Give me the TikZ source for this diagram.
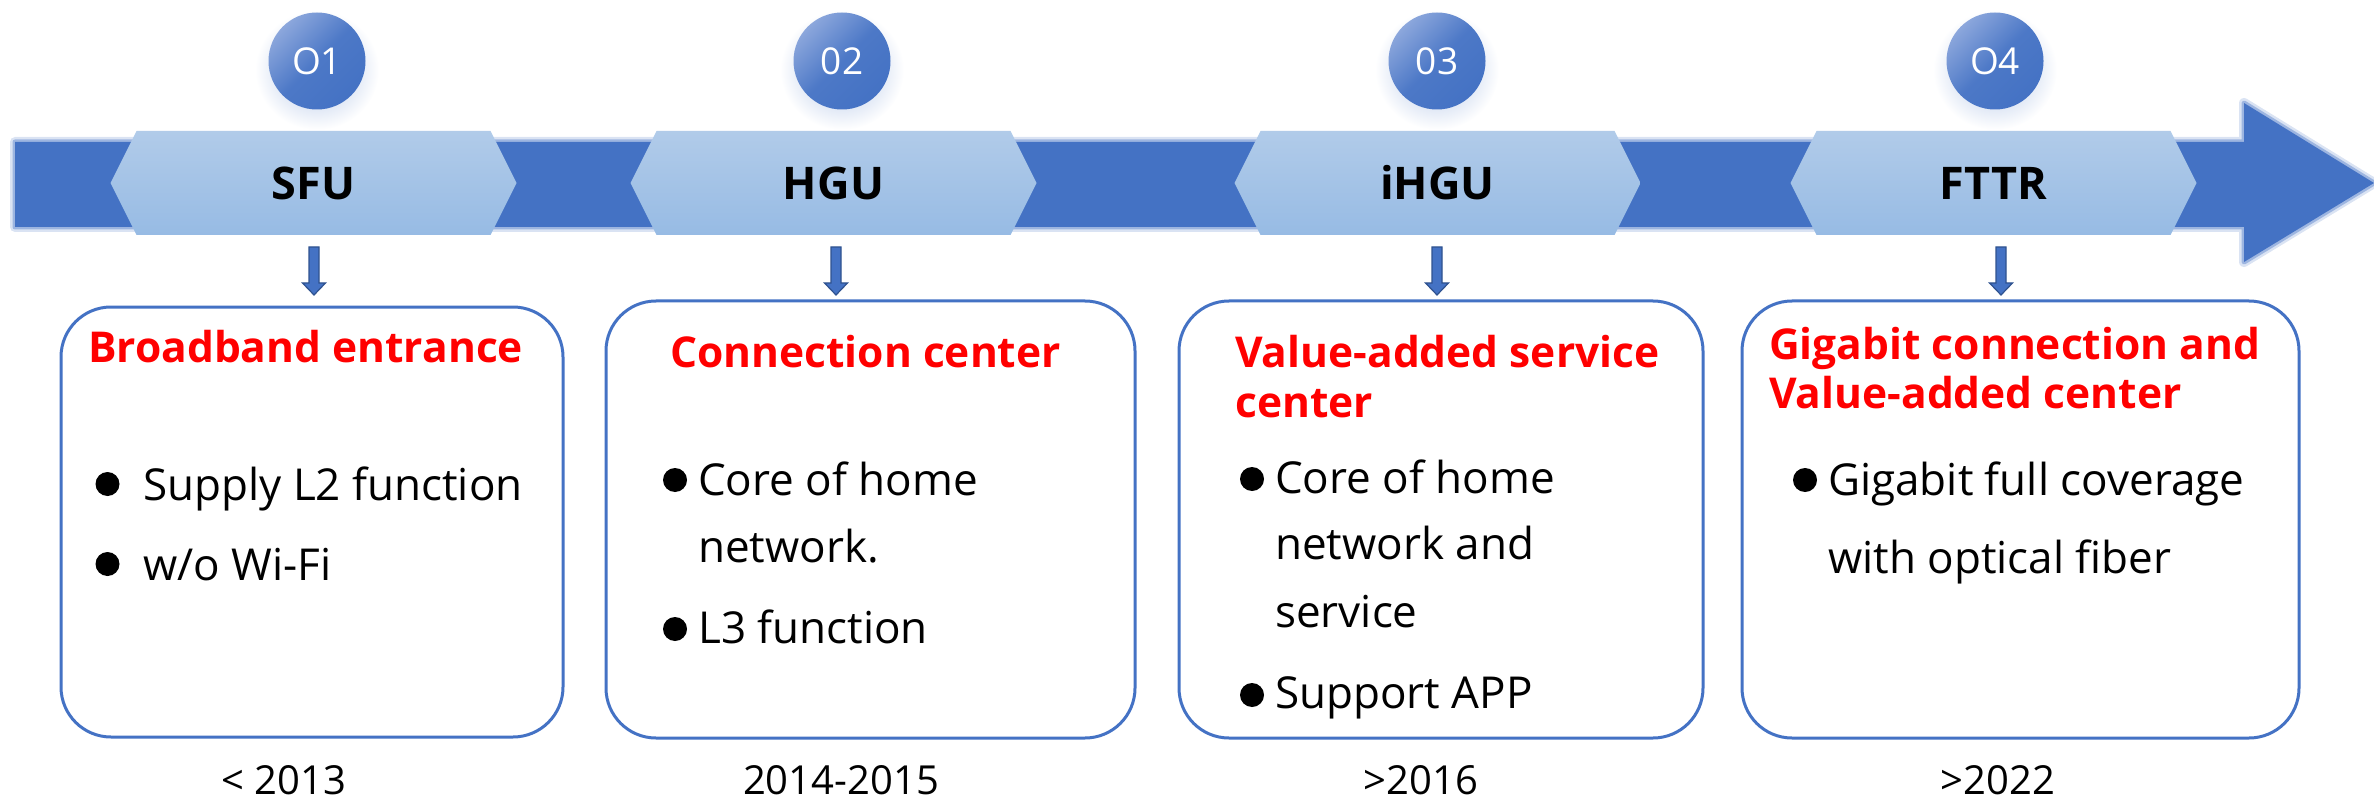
\documentclass[tikz,border=0pt]{standalone}
\usepackage{fontspec}
\setmainfont{Open Sans}
\usetikzlibrary{calc}

\definecolor{bandblue}{HTML}{4472C4}
\definecolor{hextop}{HTML}{B1CBE9}
\definecolor{hexbot}{HTML}{97BBE4}
\definecolor{ballhi}{HTML}{8CA7DC}
\definecolor{arrowedge}{HTML}{2F528F}
\definecolor{titlered}{HTML}{FF0000}

\tikzset{
  stage/.style={inner sep=0, minimum width=354, minimum height=104,
    font=\bfseries\fontsize{45}{52}\selectfont},
  ball/.style={circle, inner sep=0, minimum size=97, text=white,
    shade, top color=ballhi, bottom color=bandblue, middle color=bandblue!88!ballhi,
    shading angle=45, font=\fontsize{37}{42}\selectfont},
  card/.style={draw=bandblue, line width=3, rounded corners=50, inner sep=0},
  heading/.style={anchor=base west, inner sep=0, text=titlered,
    font=\bfseries\fontsize{42.5}{50}\selectfont},
  item/.style={anchor=base west, inner sep=0, font=\fontsize{44}{50}\selectfont},
  year/.style={anchor=base, inner sep=0, font=\fontsize{40}{48}\selectfont},
  downarrow/.style={fill=bandblue, draw=arrowedge, line width=1.2},
}

\begin{document}
\begin{tikzpicture}[x=1pt, y=-1pt]
\useasboundingbox (0,0) rectangle (2374,802);

% timeline band with a soft edge
\def\bandpath{(15,142) -- (2244,142) -- (2244,103) -- (2374,183) -- (2244,262) -- (2244,227) -- (15,227) -- cycle}
\draw[bandblue, line width=10, opacity=0.2, line join=round] \bandpath;
\draw[bandblue, line width=5, opacity=0.4, line join=round] \bandpath;
\fill[bandblue] \bandpath;

% stages along the band
\foreach \i/\cx/\bx/\ax/\lbl/\num in {1/313.5/317/314/SFU/O1, 2/833.5/842/836/HGU/02,
    3/1437.5/1437/1437/iHGU/03, 4/1993.5/1995/2001/FTTR/O4} {
  \shade[top color=hextop, bottom color=hexbot]
    (\cx-177,131) -- (\cx+177,131) -- (\cx+203,183) -- (\cx+177,235)
    -- (\cx-177,235) -- (\cx-203,183) -- cycle;
  \node[stage] (hex\i) at (\cx,183) {\lbl};
  % soft shadow under the number badge
  \shade[inner color=bandblue!45, outer color=white] (\bx,70) ellipse [x radius=62, y radius=60];
  \node[ball] (num\i) at (\bx,61) {\num};
  % block arrow down to the card
  \coordinate (a\i) at (\ax,247);
  \draw[downarrow] ($(a\i)+(-5,0)$) -- ++(10,0) -- ++(0,36) -- ++(6.5,0)
    -- ($(a\i)+(0,48)$) -- ++(-11.5,-12) -- ++(6.5,0) -- cycle;
}

% cards
\node[card, minimum width=502, minimum height=430] (box1) at (312,522) {};
\node[card, minimum width=529, minimum height=437] (box2) at (870.5,519.5) {};
\node[card, minimum width=524, minimum height=437] (box3) at (1441,519.5) {};
\node[card, minimum width=557, minimum height=437] (box4) at (2020.5,519.5) {};

% card 1
\node[heading] (t1) at (88,362) {Broadband entrance};
\fill (107.5,484) circle [radius=12];
\node[item] (t1a) at (143,500) {Supply L2 function};
\fill (107.5,564) circle [radius=12];
\node[item] (t1b) at (143,580) {w/o Wi-Fi};

% card 2
\node[heading] (t2) at (670,367) {Connection center};
\fill (675,480) circle [radius=12];
\node[item] (t2a) at (698,495) {Core of home};
\node[item] (t2b) at (698,562) {network.};
\fill (675,629) circle [radius=12];
\node[item] (t2c) at (698,643) {L3 function};

% card 3
\node[heading] (t3) at (1235,367) {Value-added service};
\node[heading] (t3l) at (1235,417) {center};
\fill (1252,479) circle [radius=12];
\node[item] (t3a) at (1275,493) {Core of home};
\node[item] (t3b) at (1275,559) {network and};
\node[item] (t3c) at (1275,627) {service};
\fill (1252,695) circle [radius=12];
\node[item] (t3d) at (1275,708) {Support APP};

% card 4
\node[heading] (t4) at (1769,359) {Gigabit connection and};
\node[heading] (t4l) at (1769,408) {Value-added center};
\fill (1805,480) circle [radius=12];
\node[item] (t4a) at (1828,495) {Gigabit full coverage};
\node[item] (t4b) at (1828,573) {with optical fiber};

% years
\node[year] (y1) at (284,794) {< 2013};
\node[year] (y2) at (841,794) {2014-2015};
\node[year] (y3) at (1421,794) {>2016};
\node[year] (y4) at (1998,794) {>2022};
\end{tikzpicture}
\end{document}
